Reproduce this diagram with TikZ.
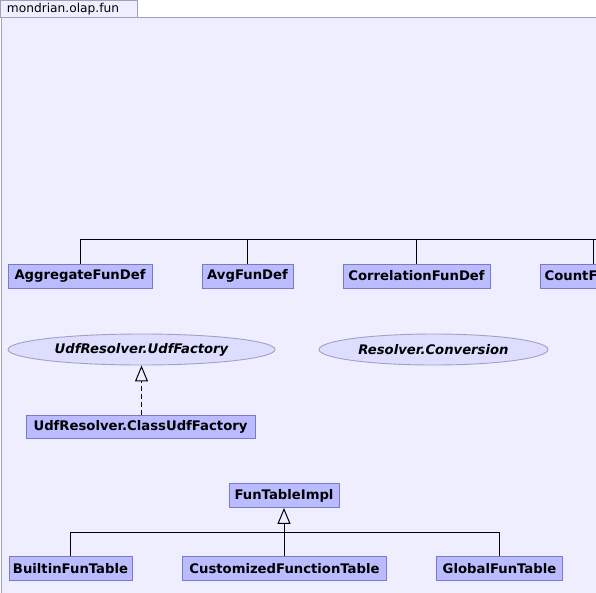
\documentclass[tikz,border=0pt]{standalone}
\usepackage{fontspec}
\setmainfont{DejaVu Sans}
\usetikzlibrary{arrows.meta}
\definecolor{panelbg}{RGB}{238,238,255}
\definecolor{panelline}{RGB}{160,160,184}
\definecolor{boxfill}{RGB}{187,187,255}
\definecolor{boxline}{RGB}{122,122,196}
\definecolor{ellfill}{RGB}{221,221,255}
\definecolor{ellline}{RGB}{160,160,192}
\tikzset{
  cls/.style={draw=boxline, fill=boxfill, line width=0.9pt, minimum height=24pt, inner sep=0pt,
    font=\fontsize{13.2}{15}\selectfont\bfseries, text=black},
  iface/.style={draw=ellline, fill=ellfill, line width=0.9pt, ellipse, inner sep=0pt,
    font=\fontsize{13.2}{15}\selectfont\bfseries\itshape, text=black},
  conn/.style={draw=black, line width=1pt},
  inherit/.style={conn, -{Triangle[open, width=13pt, length=16pt, line width=1pt]}},
  realize/.style={inherit, dash pattern=on 5pt off 3pt},
}
\usetikzlibrary{shapes.geometric}
\begin{document}
\begin{tikzpicture}[x=1pt, y=-1pt]
\useasboundingbox (0,0) rectangle (596,592);
\begin{scope}
\clip (0,0) rectangle (596,592);
% panel and tab
\draw[fill=panelbg, draw=panelline, line width=1pt] (1,17) rectangle (610,610);
\draw[fill=panelbg, draw=panelline, line width=1pt] (0.5,0.5) rectangle (137,17);
\node[font=\fontsize{12.2}{14}\selectfont, text=black, inner sep=0pt] (tab) at (63,9) {mondrian.olap.fun};

% top row
\node[cls, minimum width=144pt] (agg) at (80,276) {AggregateFunDef};
\node[cls, minimum width=91pt] (avg) at (247.5,276) {AvgFunDef};
\node[cls, minimum width=147pt] (cor) at (416.5,276) {CorrelationFunDef};
\node[cls, minimum width=106pt] (cnt) at (593,276) {CountFunDef};
\coordinate (topend) at (610,239);
\draw[conn] (agg.north) |- (topend);
\draw[conn] (avg.north) -- (avg.north |- topend);
\draw[conn] (cor.north) -- (cor.north |- topend);
\draw[conn] (cnt.north) -- (cnt.north |- topend);

% interfaces
\node[iface, minimum width=267pt, minimum height=31pt] (udf) at (141.5,349.5) {UdfResolver.UdfFactory};
\node[iface, minimum width=229pt, minimum height=31pt] (conv) at (433.5,349.5) {Resolver.Conversion};
\node[cls, minimum width=229pt, minimum height=23pt] (cudf) at (140.5,426.5) {UdfResolver.ClassUdfFactory};
\draw[realize] (cudf.north -| udf.south) -- (udf.south);

% bottom group
\node[cls, minimum width=110pt] (fti) at (284,495.5) {FunTableImpl};
\node[cls, minimum width=123pt] (bft) at (70.5,568.5) {BuiltinFunTable};
\node[cls, minimum width=204pt] (cft) at (284.5,568.5) {CustomizedFunctionTable};
\node[cls, minimum width=126pt] (gft) at (499.5,568.5) {GlobalFunTable};
\coordinate (bj) at (284,532);
\draw[conn] (bft.north) |- (bj) -| (gft.north);
\draw[conn] (cft.north -| bj) -- (bj);
\draw[inherit] (bj) -- (fti.south);
\end{scope}
\end{tikzpicture}
\end{document}
